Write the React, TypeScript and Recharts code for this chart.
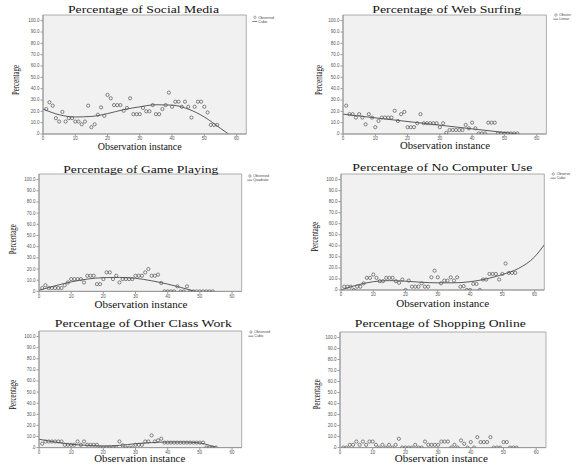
import { ComposedChart, Scatter, Line, XAxis, YAxis, CartesianGrid } from 'recharts';

// observation instance (x) shared by every panel
const instance = [
  1, 2, 3, 4, 5, 6, 7, 8, 9, 10, 11, 12, 13, 14, 15, 16, 17, 18, 19, 20,
  21, 22, 23, 24, 25, 26, 27, 28, 29, 30, 31, 32, 33, 34, 35, 36, 37, 38, 39, 40,
  41, 42, 43, 44, 45, 46, 47, 48, 49, 50, 51, 52, 53, 54, 55,
];

const socialMedia = [
  22, 28, 25, 14, 11, 19.5, 11, 14, 14, 11,
  11, 8.5, 11, 25, 6, 8.5, 17, 23.5, 16, 34.5,
  31.5, 25.5, 25.5, 25.5, 20.5, 23, 31.5, 17.5, 17.5, 17.5,
  23, 20, 20, 25.5, 17.5, 17.5, 22, 25.5, 36.5, 24,
  28.5, 28.5, 24, 28.5, 24, 14.5, 24, 28.5, 28.5, 24,
  19, 8, 8, 8,
];
const socialFitX = [0, 5, 10, 15, 20, 25, 30, 35, 40, 45, 50, 55, 57.5];
const socialFitY = [22, 17, 15, 15.5, 18, 21.5, 24, 25.8, 25.5, 22, 15, 5, 0];

const webSurfing = [
  25, 17.5, 17.5, 14.5, 17.5, 14.5, 8.5, 17.5, 14.5, 6,
  11.5, 14.5, 14.5, 14.5, 14.5, 20.5, 11.5, 17.5, 19.5, 6,
  6, 6, 9.5, 17.5, 9.5, 9.5, 9.5, 9.5, 9.5, 6,
  9.5, 1, 3.5, 3.5, 3.5, 3.5, 3.5, 8, 5, 10,
  5, 0.5, 0.5, 0.5, 10, 10, 10, 0.5, 0.5, 0.5,
  0.5, 0.5, 0.5, 0.5,
];
const webFitX = [0, 54];
const webFitY = [17.5, 0];

const gamePlaying = [
  3, 5.5, 3, 3, 3, 3, 3, 5.5, 8, 11,
  11, 11, 11, 8, 14, 14, 14, 6.5, 6.5, 11,
  17, 17, 11, 14, 8, 11, 11, 11, 11, 14,
  14, 14, 17, 20, 14, 14, 15, 7.5, 0, 0,
  0, 0, 4.5, 0, 0, 4.5, 0, 0, 0, 0,
  0, 0, 0, 0,
];
const gameFitX = [0, 5, 10, 15, 20, 25, 30, 35, 40, 45, 48.5];
const gameFitY = [1, 5, 8.5, 11, 12.3, 12.5, 11.7, 9.5, 6.5, 2.8, 0];

const noComputer = [
  3, 3, 3, 0, 3, 3, 6, 11, 11, 14,
  11, 8, 8, 11, 11, 11, 8, 6.5, 9.5, 0,
  8.5, 3, 3, 3, 6, 3, 3, 11.5, 17.5, 11.5,
  6, 8.5, 8.5, 11.5, 8.5, 11.5, 3, 3.5, 0, 0,
  5.5, 5.5, 0, 9.5, 9.5, 14.5, 14.5, 14.5, 9.5, 14.5,
  24, 15.5, 15.5, 15.5,
];
const noComputerFitX = [0, 5, 10, 15, 20, 25, 30, 35, 40, 45, 50, 55, 60, 63];
const noComputerFitY = [0, 4.5, 7.5, 8.5, 8, 7, 6.5, 6.5, 7.5, 10, 14, 19.5, 30, 41];

const otherClassWork = [
  3.5, 5.5, 5.5, 5.5, 5.5, 5.5, 5.5, 2.5, 2.5, 2.5,
  2.5, 5.5, 2.5, 5.5, 2.5, 2.5, 2.5, 2.5, 0, 0,
  0, 0, 0, 0, 5.5, 2, 0, 0, 0, 2.5,
  2.5, 2.5, 5.5, 5.5, 11, 5.5, 6.5, 8, 4.5, 4.5,
  4.5, 4.5, 4.5, 4.5, 4.5, 4.5, 4.5, 4.5, 4.5, 4.5,
  4.5, 0, 0, 0, 0,
];
const otherFitX = [0, 5, 10, 15, 20, 25, 30, 35, 40, 45, 50, 53, 55.5];
const otherFitY = [7.5, 5, 3, 2, 1.5, 2, 3.5, 4.5, 5, 5, 4.2, 2, 0];

const shoppingOnline = [
  0, 0, 2.5, 2.5, 5.5, 2.5, 5.5, 2.5, 5.5, 5.5,
  2.5, 0, 2.5, 0, 2.5, 0, 2.5, 8, 0, 0,
  0, 0, 2.5, 0, 0, 5.5, 2.5, 2.5, 2.5, 2.5,
  5.5, 5.5, 5.5, 0, 2.5, 0, 6.5, 3.5, 0, 5,
  0, 9.5, 5, 5, 5, 9.5, 0, 0, 0, 5,
  5, 0, 0, 0,
];

const xTicks = [0, 10, 20, 30, 40, 50, 60];
const yTicks = [0, 10, 20, 30, 40, 50, 60, 70, 80, 90, 100];

const SERIF = '"Liberation Serif", "Times New Roman", serif';
const SANS = '"Liberation Sans", Arial, sans-serif';

const toPoints = (ys: number[]) => ys.map((y, i) => ({ x: instance[i], y }));
const toCurve = (xs: number[], ys: number[]) => xs.map((x, i) => ({ x, y: ys[i] }));

const PANELS = [
  {
    title: 'Percentage of Social Media', obs: toPoints(socialMedia), fit: toCurve(socialFitX, socialFitY),
    legend: ['Observed', 'Cubic'], plot: { l: 42.7, t: 15, r: 246, b: 134 },
    titleCx: 143.5, titleY: 13.3, titleW: 151, xlCx: 139.7, xlY: 149.5, xlW: 84, ylX: 15, ylCy: 80,
    lx: 252.3, ly: 17.3,
  },
  {
    title: 'Percentage of Web Surfing', obs: toPoints(webSurfing), fit: toCurve(webFitX, webFitY),
    legend: ['Observ', 'Linear'], plot: { l: 343.3, t: 15, r: 546.7, b: 134 },
    titleCx: 446.7, titleY: 13.3, titleW: 149, xlCx: 445, xlY: 149.2, xlW: 90, ylX: 318.3, ylCy: 80,
    lx: 553.3, ly: 15,
  },
  {
    title: 'Percentage of Game Playing', obs: toPoints(gamePlaying), fit: toCurve(gameFitX, gameFitY),
    legend: ['Observed', 'Quadratic'], plot: { l: 39, t: 174.3, r: 241.7, b: 291.7 },
    titleCx: 140.8, titleY: 172.7, titleW: 155, xlCx: 141, xlY: 307.5, xlW: 93, ylX: 12.3, ylCy: 239.3,
    lx: 247.3, ly: 176,
  },
  {
    title: 'Percentage of No Computer Use', obs: toPoints(noComputer), fit: toCurve(noComputerFitX, noComputerFitY),
    legend: ['Observe', 'Cubic'], plot: { l: 340.7, t: 174, r: 544, b: 290 },
    titleCx: 442.3, titleY: 170.5, titleW: 180, xlCx: 442.7, xlY: 306.8, xlW: 93, ylX: 313.7, ylCy: 236.7,
    lx: 550.7, ly: 174,
  },
  {
    title: 'Percentage of Other Class Work', obs: toPoints(otherClassWork), fit: toCurve(otherFitX, otherFitY),
    legend: ['Observed', 'Cubic'], plot: { l: 39, t: 330.7, r: 241.7, b: 447.3 },
    titleCx: 143.3, titleY: 327.3, titleW: 177, xlCx: 139.7, xlY: 462, xlW: 91, ylX: 12, ylCy: 394.7,
    lx: 248.3, ly: 332,
  },
  {
    title: 'Percentage of Shopping Online', obs: toPoints(shoppingOnline), fit: null,
    legend: null, plot: { l: 340, t: 331.7, r: 546, b: 447.3 },
    titleCx: 440.3, titleY: 327.3, titleW: 171, xlCx: 441.3, xlY: 462, xlW: 93, ylX: 315.7, ylCy: 394.3,
    lx: 0, ly: 0,
  },
];

const fmtY = (v: number) => (v === 0 ? '.0' : v.toFixed(1));

const YTick = ({ x, y, payload }: any) => (
  <text x={x} y={y} dy={1.5} textAnchor="end" fontSize={4.5} fill="#555" fontFamily={SANS}>
    {fmtY(payload.value)}
  </text>
);

const XTick = ({ x, y, payload }: any) => (
  <text x={x} y={y} dy={3.2} textAnchor="middle" fontSize={4.5} fill="#555" fontFamily={SANS}>
    {payload.value}
  </text>
);

const ObsMarker = (props: any) => {
  if (props.cx == null || props.cy == null) return <g />;
  return <circle cx={props.cx} cy={props.cy} r={1.6} fill="none" stroke="#555" strokeWidth={0.7} />;
};

function Panel({ p }: { p: (typeof PANELS)[number] }) {
  const { l, t, r, b } = p.plot;
  const width = r - l + 26;
  const height = b - t + 18;
  return (
    <div style={{ position: 'absolute', left: l - 22, top: t - 4, width, height }}>
      <ComposedChart width={width} height={height} margin={{ top: 4, right: 4, bottom: 2, left: 2 }}>
        <CartesianGrid
          fill="#f1f1f1"
          fillOpacity={1}
          stroke="#9a9a9a"
          strokeWidth={0.8}
          horizontalCoordinatesGenerator={({ offset }: any) => [offset.top, offset.top + offset.height]}
          verticalCoordinatesGenerator={({ offset }: any) => [offset.left, offset.left + offset.width]}
        />
        <XAxis
          type="number"
          dataKey="x"
          domain={[0, 63]}
          ticks={xTicks}
          interval={0}
          height={12}
          tickSize={2.5}
          tickMargin={0.5}
          tick={<XTick />}
          stroke="#9a9a9a"
          allowDataOverflow
        />
        <YAxis
          type="number"
          dataKey="y"
          domain={[0, 105]}
          ticks={yTicks}
          interval={0}
          width={20}
          tickSize={2.5}
          tickMargin={1}
          tick={<YTick />}
          stroke="#9a9a9a"
          allowDataOverflow
        />
        <Scatter data={p.obs} dataKey="y" shape={ObsMarker} isAnimationActive={false} />
        {p.fit && (
          <Line
            data={p.fit}
            dataKey="y"
            type="monotone"
            stroke="#333"
            strokeWidth={0.8}
            dot={false}
            activeDot={false}
            isAnimationActive={false}
          />
        )}
      </ComposedChart>
    </div>
  );
}

export default function App() {
  return (
    <div style={{ position: 'absolute', left: 0, top: 0, width: 580, height: 466, background: '#fff', overflow: 'hidden' }}>
      {PANELS.map((p) => (
        <Panel key={p.title} p={p} />
      ))}
      <svg width={580} height={466} style={{ position: 'absolute', left: 0, top: 0, pointerEvents: 'none' }}>
        {PANELS.map((p) => (
          <g key={p.title}>
            <text
              x={p.titleCx - p.titleW / 2}
              y={p.titleY}
              fontSize={11}
              fontFamily={SERIF}
              fill="#111"
              textLength={p.titleW}
              lengthAdjust="spacingAndGlyphs"
            >
              {p.title}
            </text>
            <text
              x={p.xlCx - p.xlW / 2}
              y={p.xlY}
              fontSize={9.5}
              fontFamily={SERIF}
              fill="#111"
              textLength={p.xlW}
              lengthAdjust="spacingAndGlyphs"
            >
              Observation instance
            </text>
            <text
              transform={`translate(${p.ylX}, ${p.ylCy}) rotate(-90)`}
              x={-15}
              y={0}
              dominantBaseline="central"
              fontSize={11}
              fontFamily={SERIF}
              fill="#111"
              textLength={30}
              lengthAdjust="spacingAndGlyphs"
            >
              Percentage
            </text>
            {p.legend && (
              <g fontFamily={SANS} fontSize={3.6} fill="#444">
                <circle cx={p.lx + 2.6} cy={p.ly} r={1.2} fill="none" stroke="#555" strokeWidth={0.5} />
                <text x={p.lx + 6} y={p.ly + 1.2}>{p.legend[0]}</text>
                <line x1={p.lx} x2={p.lx + 5} y1={p.ly + 4.2} y2={p.ly + 4.2} stroke="#333" strokeWidth={0.6} />
                <text x={p.lx + 6} y={p.ly + 5.4}>{p.legend[1]}</text>
              </g>
            )}
          </g>
        ))}
      </svg>
    </div>
  );
}
